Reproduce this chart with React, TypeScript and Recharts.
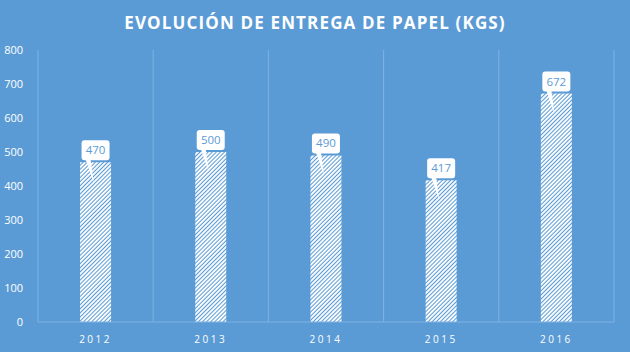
import React from 'react';
import { BarChart, Bar, XAxis, YAxis, CartesianGrid, LabelList } from 'recharts';

const years = ['2012', '2013', '2014', '2015', '2016'];
const kilos = [470, 500, 490, 417, 672];
const yTicks = [0, 100, 200, 300, 400, 500, 600, 700, 800];

const data = years.map((y, i) => ({ year: y, value: kilos[i] }));

const BG = '#5B9BD5';
const GRID = '#7FB1E2';

const Callout = (props: any) => {
  const { x, y, width, value } = props;
  const cx = x + width / 2;
  const bw = 28;
  const bh = 20;
  const bottom = y - 2;
  const top = bottom - bh;
  const left = cx - bw / 2;
  return (
    <g>
      <path
        d={`M ${cx - 10} ${bottom - 1} L ${cx - 5} ${bottom - 1} L ${cx - 2} ${y + 20} Z`}
        fill="#ffffff"
      />
      <rect x={left} y={top} width={bw} height={bh} rx={3} ry={3} fill="#ffffff" />
      <text
        x={cx}
        y={top + 14}
        textAnchor="middle"
        fontSize={11.5}
        fontFamily="'Open Sans', sans-serif"
        fill={BG}
      >
        {value}
      </text>
    </g>
  );
};

export default function App() {
  return (
    <div style={{ position: 'absolute', left: 0, top: 0, width: 630, height: 352, background: BG }}>
      <div
        style={{
          position: 'absolute',
          left: 0,
          top: 11,
          width: 630,
          textAlign: 'center',
          color: '#ffffff',
          fontFamily: "'Open Sans', sans-serif",
          fontWeight: 700,
          fontSize: 17,
          letterSpacing: 1.15,
          lineHeight: '24px',
        }}
      >
        EVOLUCIÓN DE ENTREGA DE PAPEL (KGS)
      </div>
      <BarChart
        width={630}
        height={352}
        data={data}
        margin={{ top: 50, right: 16, bottom: 0, left: 0 }}
        barCategoryGap="36.5%"
        style={{ position: 'absolute', left: 0, top: 0 }}
      >
        <defs>
          <pattern id="hatch" patternUnits="userSpaceOnUse" width="2.9" height="2.9" patternTransform="rotate(45)">
            <rect x="0" y="0" width="2.9" height="2.9" fill={BG} />
            <rect x="0" y="0" width="1.85" height="2.9" fill="#ffffff" />
          </pattern>
        </defs>
        <CartesianGrid
          horizontal={false}
          stroke={GRID}
          verticalCoordinatesGenerator={({ offset }: any) =>
            [0, 1, 2, 3, 4, 5].map((i) => offset.left + (i * offset.width) / years.length)
          }
        />
        <XAxis
          dataKey="year"
          height={30}
          tickLine={false}
          axisLine={{ stroke: GRID }}
          tick={{ fill: '#ffffff', fontSize: 10, letterSpacing: 2.5, fontFamily: "'Open Sans', sans-serif" }}
          tickMargin={8}
        />
        <YAxis
          width={38}
          domain={[0, 800]}
          ticks={yTicks}
          axisLine={false}
          tickLine={false}
          tick={{ fill: '#ffffff', fontSize: 11, fontFamily: "'Open Sans', sans-serif" }}
          tickMargin={9}
        />
        <Bar dataKey="value" fill="url(#hatch)" isAnimationActive={false}>
          <LabelList dataKey="value" content={Callout} />
        </Bar>
      </BarChart>
    </div>
  );
}
